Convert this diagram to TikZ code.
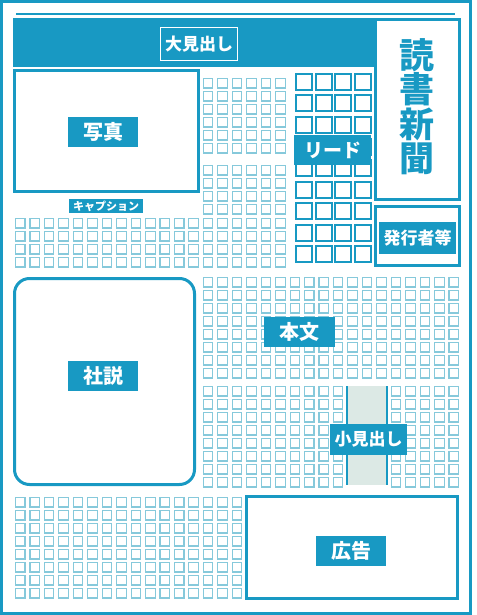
\documentclass[tikz,border=0pt]{standalone}
\usepackage{fontspec}
\newfontfamily\jp{Noto Sans CJK JP}
\usepackage{xcolor}
\usepackage{tikz}
\definecolor{ink}{HTML}{1899C3}
\definecolor{soft}{HTML}{86C9DB}
\definecolor{pale}{HTML}{DCE9E5}
\tikzset{
  frame/.style={draw=ink, line width=3pt},
  cell/.style={draw=soft, line width=1.1pt},
  leadcell/.style={draw=ink, line width=2pt},
  tag/.style={fill=ink, font=\jp\bfseries\fontsize{20}{24}\selectfont, inner sep=0pt, minimum width=70pt, minimum height=30pt},
  tagsm/.style={tag, font=\jp\bfseries\fontsize{17}{20}\selectfont, minimum width=77pt},
  every node/.style={text=white}
}

\begin{document}
\begin{tikzpicture}[x=1pt,y=-1pt]
  \useasboundingbox (0,0) rectangle (476,615);

  % outer frame and top rule
  \draw[frame] (1.5,1.5) rectangle (470,613.5);
  \draw[ink, line width=2pt] (16,14.3) -- (455,14.3);

  % text grids
  \foreach \i in {13,...,18}
    \foreach \k in {0,...,5}
      \draw[cell] ({15.5+14.45*\i},{78.5+13*\k}) rectangle +(9.5,9.5);
  \foreach \i in {13,...,18}
    \foreach \k in {0,...,3}
      \draw[cell] ({15.5+14.45*\i},{165.5+13*\k}) rectangle +(9.5,9.5);
  \foreach \i in {0,...,18}
    \foreach \k in {0,...,3}
      \draw[cell] ({15.5+14.45*\i},{218.5+13*\k}) rectangle +(9.5,9.5);
  \foreach \i in {13,...,30}
    \foreach \k in {0,...,7}
      \draw[cell] ({15.5+14.45*\i},{277.5+13*\k}) rectangle +(9.5,9.5);
  \foreach \i in {13,...,22,26,27,28,29,30}
    \foreach \k in {0,...,7}
      \draw[cell] ({15.5+14.45*\i},{386.5+13*\k}) rectangle +(9.5,9.5);
  \foreach \i in {0,...,15}
    \foreach \k in {0,...,7}
      \draw[cell] ({15.5+14.45*\i},{497.5+13*\k}) rectangle +(9.5,9.5);

  % lead grid
  \foreach \j in {0,...,3}
    \foreach \k in {0,...,8}
      \draw[leadcell] ({296+19.5*\j},{74+21.5*\k}) rectangle +(16,16);

  % sub-head column
  \fill[pale] (347,386) rectangle (387,485);
  \draw[ink, line width=1.5pt] (347,386) -- (347,485);
  \draw[ink, line width=1.5pt] (387,386) -- (387,485);

  % headline band and boxes
  \fill[ink] (13,18) rectangle (375,67);
  \draw[frame] (375.5,19.5) rectangle (459.5,199.5);
  \draw[frame] (375.5,206.5) rectangle (459.5,265.5);
  \draw[frame] (14.5,70.5) rectangle (198.5,191.5);
  \draw[frame, rounded corners=15pt] (14.5,278.5) rectangle (194.5,484.5);
  \draw[frame] (246.5,496.5) rectangle (457.8,598.5);

  \node[font=\jp\bfseries\fontsize{35}{34.5}\selectfont, text=ink, align=center, inner sep=0pt] (title) at (417,106.5) {読\\書\\新\\聞};

  \node[tagsm, draw=white, line width=1pt, minimum height=33pt] (bighead) at (199,44.5) {大見出し};
  \node[tag] (photo) at (103,132) {写真};
  \node[tag, minimum width=74pt, minimum height=14pt, font=\jp\bfseries\fontsize{11}{12}\selectfont] (caption) at (106,206) {キャプション};
  \node[tag, minimum width=77pt, font=\jp\bfseries\fontsize{19}{22}\selectfont] (lead) at (332.5,150) {リード};
  \node[tagsm, minimum height=32pt] (issuer) at (417.5,238) {発行者等};
  \node[tag, minimum width=71pt] (body) at (299.5,332) {本文};
  \node[tag] (editorial) at (103,376) {社説};
  \node[tagsm, minimum height=31pt] (subhead) at (368.5,439.5) {小見出し};
  \node[tag] (ad) at (351,551) {広告};
\end{tikzpicture}
\end{document}
